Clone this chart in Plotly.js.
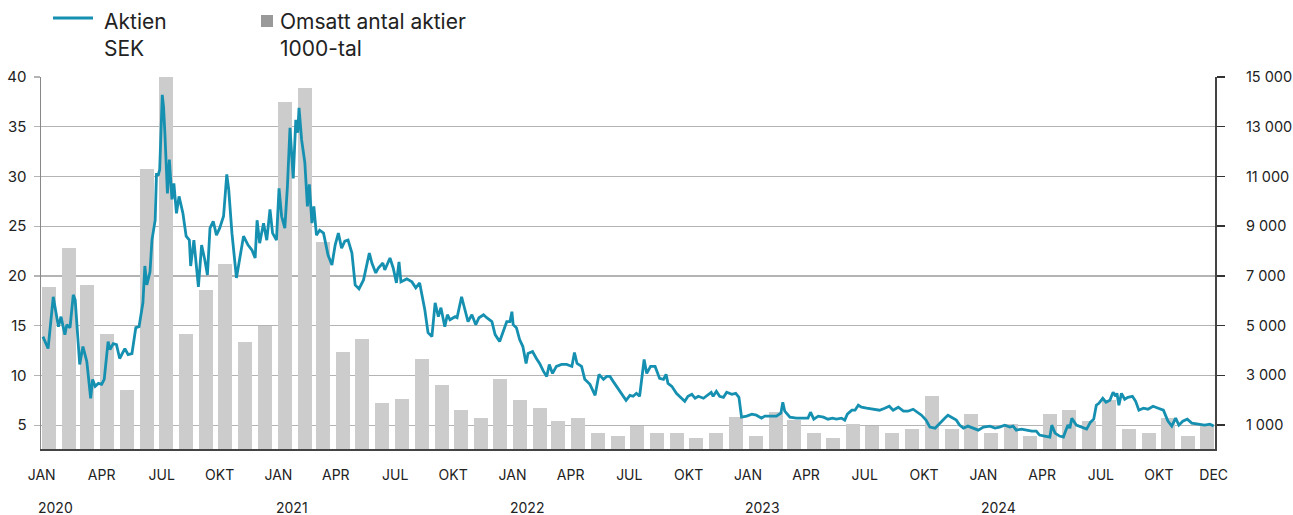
<!DOCTYPE html>
<html><head><meta charset="utf-8">
<script src="https://cdn.plot.ly/plotly-3.0.1.min.js"></script>
<style>html,body{margin:0;padding:0;background:#fff;}#chart{width:1293px;height:515px;}</style>
</head><body><div id="chart"></div>
<script>
// Monthly turnover, number of shares in thousands (1000-tal)
const years = [2020, 2021, 2022, 2023, 2024];
const volume2020 = [6550, 8120, 6630, 4650, 2400, 11300, 15000, 4650, 6430, 7480, 4330, 4970];
const volume2021 = [14000, 14570, 8360, 3930, 4450, 1870, 2040, 3650, 2600, 1590, 1270, 2840];
const volume2022 = [2000, 1670, 1150, 1270, 670, 580, 960, 700, 700, 500, 700, 1310];
const volume2023 = [580, 1510, 1190, 670, 500, 1030, 950, 700, 830, 2160, 830, 1430];
const volume2024 = [670, 1030, 580, 1430, 1590, 1150, 2000, 830, 700, 1270, 580, 950];

// Share price (SEK), sampled: days since 2020-01-01 and price
const priceDays = [3,6,11,19,27,31,35,37,40,45,50,53,60,65,71,77,80,84,89,94,98,104,107,112,117,122,130,135,141,147,152,158,161,164,169,172,177,179,182,184,188,190,192,196,199,203,206,210,214,220,225,230,232,237,244,249,254,258,262,267,272,277,283,288,291,296,303,308,314,321,327,332,335,339,345,350,355,359,365,369,373,378,382,386,391,395,398,400,404,409,413,416,420,423,427,432,438,445,451,456,461,466,471,476,
482,487,493,500,509,513,519,523,530,533,541,546,551,555,558,567,575,581,587,595,600,606,611,616,620,626,630,634,642,645,652,656,662,668,674,679,686,691,699,704,711,722,727,730,732,737,742,747,752,755,762,768,773,779,784,788,793,799,807,815,823,827,831,838,843,851,859,865,872,877,882,887,895,902,907,913,918,923,928,935,939,945,952,
959,965,969,972,978,985,993,998,1003,1009,1014,1019,1027,1034,1039,1042,1047,1052,1058,1063,1071,1077,1082,1086,1094,1102,1109,1117,1122,1130,1140,1147,1150,1153,1161,1171,1182,1189,1193,1198,1205,1213,1220,1227,1233,1241,1246,1250,1257,1262,1267,1272,1280,1290,1300,1308,1315,1321,1329,1337,1344,1352,1360,1365,1372,1378,1386,1393,1401,
1406,1412,1419,1424,1430,1437,1445,1453,1461,1471,1479,1486,1494,1502,1507,1512,1520,1528,1536,1543,1548,1556,1564,1567,1572,1579,1585,1589,1592,1595,1598,1605,1613,1621,1627,1632,1636,1640,1646,1651,1657,1662,1666,1668,1671,1675,1680,1685,1692,1697,1702,1709,1716,1724,1732,1740,1747,1753,1759,1764,1770,1777,1784,1794,1804,1812,1818];
const priceSEK = [13.9,13.4,12.7,17.9,14.9,15.9,14.9,14.1,15.1,14.8,18.1,17.6,11.1,12.9,11.4,7.7,9.6,8.9,9.2,9.1,9.6,13.4,12.6,13.2,13.1,11.7,12.7,12.1,12.2,14.8,14.9,17.3,21.0,19.1,20.4,23.6,25.6,30.2,30.2,30.7,38.2,37.0,34.4,28.3,31.7,27.7,29.3,26.3,28.0,26.3,24.0,23.6,21.0,23.6,18.9,23.1,21.6,20.1,24.8,25.5,24.1,24.8,26.0,30.2,28.7,24.3,19.8,21.6,24.0,23.1,22.6,21.8,25.6,23.3,25.3,23.6,26.7,24.3,23.6,28.8,26.0,24.8,29.0,34.9,29.8,35.7,34.4,36.9,33.7,31.4,27.0,29.2,25.3,27.0,24.1,24.6,24.3,22.1,21.1,23.1,24.3,22.8,23.5,23.6,
22.3,19.1,18.7,19.6,22.3,21.3,20.3,20.8,21.3,20.6,21.8,20.8,19.3,21.4,19.4,19.7,19.4,18.8,19.3,16.6,14.3,13.9,17.3,15.9,16.8,14.9,16.1,15.6,15.9,15.8,17.9,16.9,15.4,16.1,15.1,15.8,16.1,15.8,15.4,14.1,13.4,15.4,15.4,16.4,15.1,14.8,13.6,12.9,11.2,12.2,12.4,11.7,11.2,10.4,9.9,11.1,10.2,10.9,11.1,11.1,10.9,12.3,11.2,10.9,9.6,9.1,8.0,10.1,9.6,9.9,9.9,9.4,8.6,7.9,7.5,8.0,7.9,8.2,7.9,11.6,10.2,10.9,10.9,
9.7,9.6,10.1,9.2,8.9,8.2,7.7,7.4,7.9,8.1,7.7,7.9,7.7,8.1,8.3,7.9,8.4,7.9,7.8,8.3,8.1,8.2,7.8,5.8,5.9,6.1,6.0,5.7,5.9,5.9,5.9,6.2,7.3,6.4,5.8,5.7,5.7,5.7,6.3,5.6,5.9,5.8,5.6,5.7,5.6,5.7,5.5,6.1,6.5,6.5,7.0,6.8,6.7,6.6,6.5,6.7,6.9,6.5,6.8,6.4,6.4,6.6,6.2,6.0,5.5,4.8,4.7,5.2,5.7,
6.0,5.8,5.5,5.0,4.7,4.9,4.7,4.5,4.8,4.9,4.7,4.8,5.0,4.8,4.9,4.5,4.6,4.5,4.4,4.4,4.0,3.9,3.8,5.0,4.2,3.9,3.8,4.5,5.0,4.7,5.7,5.0,4.8,4.6,5.3,5.6,7.0,7.2,7.7,7.3,7.5,8.3,7.9,8.2,7.0,8.2,7.6,7.8,7.9,7.4,6.5,6.7,6.6,6.9,6.7,6.5,5.4,4.9,5.7,5.0,5.4,5.6,5.2,5.1,5.0,5.1,4.9];

// Axis tick labels
const xTickDates = ['2020-01-02','2020-04-04','2020-07-06','2020-10-04','2021-01-03','2021-04-02','2021-07-03','2021-10-01','2022-01-01','2022-04-01','2022-07-01','2022-10-01','2023-01-01','2023-04-01','2023-07-01','2023-10-01','2024-01-01','2024-04-01','2024-07-01','2024-09-29','2024-12-23'];
const xTickLabels = ['JAN','APR','JUL','OKT','JAN','APR','JUL','OKT','JAN','APR','JUL','OKT','JAN','APR','JUL','OKT','JAN','APR','JUL','OKT','DEC'];
const leftTicks = [5, 10, 15, 20, 25, 30, 35, 40];
const rightTicks = [1000, 3000, 5000, 7000, 9000, 11000, 13000, 15000];
const rightTickLabels = ['1 000','3 000','5 000','7 000','9 000','11 000','13 000','15 000'];

// build tables
const volumes = [volume2020, volume2021, volume2022, volume2023, volume2024];
const barX = [], barY = [];
years.forEach((y, i) => {
  volumes[i].forEach((v, m) => {
    barX.push(y + '-' + String(m + 1).padStart(2, '0') + '-13');
    barY.push(v);
  });
});
const base = Date.UTC(2020, 0, 1);
const lineX = priceDays.map(d => new Date(base + d * 864e5).toISOString().slice(0, 10));

const FONT = 'Inter, "Noto Sans", sans-serif';
const DAY = 864e5;

const traces = [
  {type: 'bar', x: barX, y: barY, yaxis: 'y', width: 21.7 * DAY,
   marker: {color: '#cccccc', line: {width: 0}}, showlegend: false, hoverinfo: 'x+y'},
  {type: 'scatter', mode: 'lines', x: lineX, y: priceSEK, yaxis: 'y2',
   line: {color: '#1590b1', width: 2.8}, showlegend: false}
];

const L = 41, R = 1215, T = 77, B = 449;
const px = v => (v - L) / (R - L);
const py = v => (B - v) / (B - T);

const annotations = [
  {xref: 'paper', yref: 'paper', x: px(103), y: py(8), xanchor: 'left', yanchor: 'top', align: 'left',
   text: 'Aktien<br>SEK', showarrow: false, borderpad: 0, font: {family: FONT, size: 21, color: '#222'}},
  {xref: 'paper', yref: 'paper', x: px(279), y: py(8), xanchor: 'left', yanchor: 'top', align: 'left',
   text: 'Omsatt antal aktier<br>1000-tal', showarrow: false, borderpad: 0, font: {family: FONT, size: 21, color: '#222'}}
];
years.forEach(y => annotations.push({
  xref: 'x', yref: 'paper', x: y + '-01-24', y: py(507), yanchor: 'middle', xanchor: 'center',
  text: String(y), showarrow: false, borderpad: 0, font: {family: FONT, size: 14, color: '#222'}
}));

const layout = {
  width: 1293, height: 515,
  margin: {l: L, r: 1293 - R, t: T, b: 515 - B, pad: 0},
  paper_bgcolor: '#fff', plot_bgcolor: '#fff',
  bargap: 0,
  showlegend: false,
  xaxis: {
    type: 'date', range: ['2020-01-01', '2024-12-25'],
    tickmode: 'array', tickvals: xTickDates, ticktext: xTickLabels,
    ticks: '', showgrid: false, zeroline: false,
    showline: true, linecolor: '#444', linewidth: 2,
    tickfont: {family: FONT, size: 14, color: '#222'},
    ticklabelstandoff: 12
  },
  yaxis: {
    side: 'right', range: [40, 15000],
    tickmode: 'array', tickvals: rightTicks, ticktext: rightTickLabels,
    ticks: 'outside', ticklen: 8, tickcolor: '#333', tickwidth: 1.5,
    showline: true, linecolor: '#444', linewidth: 2,
    showgrid: true, gridcolor: '#b4b4b4', gridwidth: 1.2, zeroline: false,
    tickfont: {family: FONT, size: 14.5, color: '#222'},
    ticklabelstandoff: 18
  },
  yaxis2: {
    side: 'left', overlaying: 'y', range: [2.6, 40],
    tickmode: 'array', tickvals: leftTicks,
    ticks: 'outside', ticklen: 6, tickcolor: '#b4b4b4', tickwidth: 1.2,
    showline: true, linecolor: '#888', linewidth: 1.5,
    showgrid: false, zeroline: false,
    tickfont: {family: FONT, size: 15, color: '#222'},
    ticklabelstandoff: 4
  },
  shapes: [
    {type: 'line', xref: 'paper', yref: 'paper', x0: px(53), x1: px(93), y0: py(18), y1: py(18),
     line: {color: '#1590b1', width: 3}},
    {type: 'rect', xref: 'paper', yref: 'paper', x0: px(261), x1: px(273), y0: py(27), y1: py(15),
     fillcolor: '#999999', line: {width: 0}}
  ],
  annotations: annotations
};

Plotly.newPlot('chart', traces, layout, {displayModeBar: false, staticPlot: true});
</script>
</body></html>
